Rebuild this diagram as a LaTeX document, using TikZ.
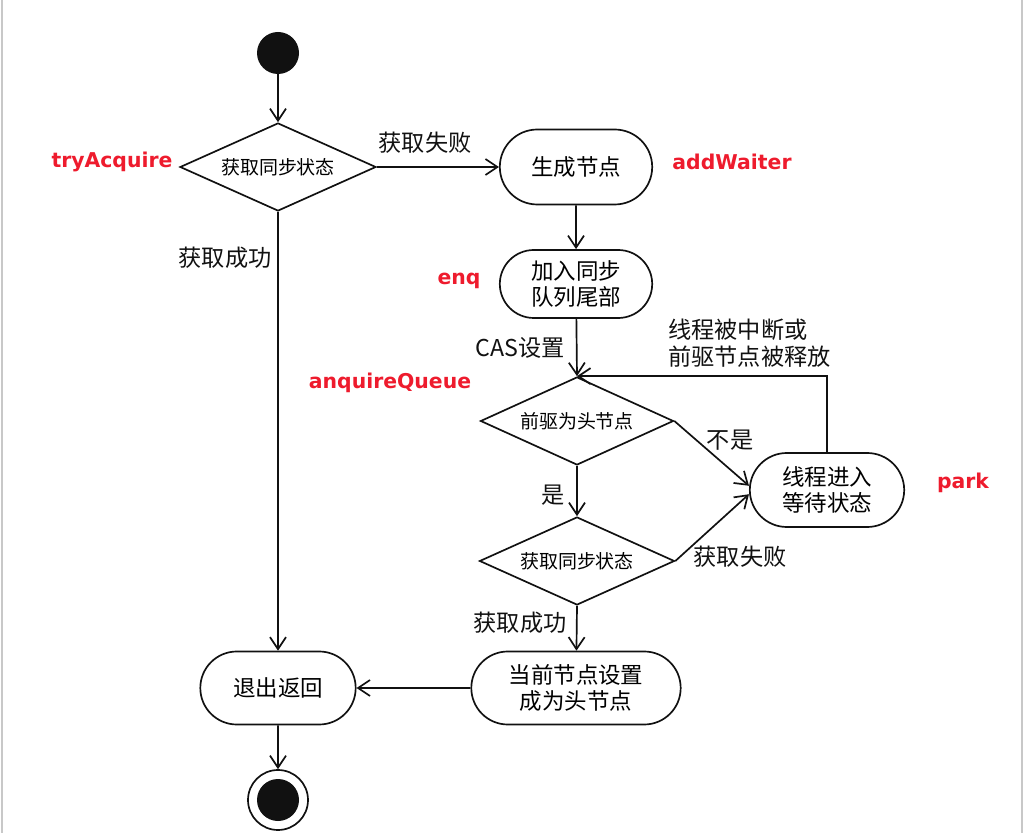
\documentclass[tikz,border=0pt]{standalone}
\usepackage{fontspec}
\setmainfont{Noto Sans CJK SC}
\newfontfamily\apifont{DejaVu Sans}
\usetikzlibrary{shapes.geometric, shapes.misc, arrows.meta}
\definecolor{FlowBlack}{HTML}{111111}
\definecolor{ApiRed}{HTML}{EE1B2D}
\definecolor{FrameGray}{HTML}{C8C8C8}
\tikzset{
    actbox/.style={
        draw=FlowBlack,
        rounded rectangle,
        line width=1.2pt,
        minimum width=4cm,
        minimum height=1.85cm,
        font=\fontsize{16}{19}\selectfont,
        align=center,
        inner sep=2pt
    },
    decision/.style={
        draw=FlowBlack,
        diamond,
        aspect=2.2,
        line width=1.2pt,
        minimum width=4.9cm,
        minimum height=2.2cm,
        font=\fontsize{13.5}{16}\selectfont,
        inner sep=0pt
    },
    arrow/.style={
        -{Straight Barb[length=3mm,width=4mm]},
        line width=1.2pt,
        FlowBlack
    },
    flowlabel/.style={
        font=\fontsize{16.5}{19}\selectfont,
        text=FlowBlack,
        inner sep=0pt
    },
    apilabel/.style={
        font=\apifont\bfseries\fontsize{14.5}{17}\selectfont,
        text=ApiRed,
        inner sep=0pt
    }
}
\begin{document}
\begin{tikzpicture}
    \useasboundingbox (0,0) rectangle (25.6,-20.825);
    % screenshot frame
    \draw[FrameGray, line width=1.5pt] (0.04,0) -- (0.04,-20.825);
    \draw[FrameGray, line width=1.5pt] (25.56,0) -- (25.56,-20.825);

    % main column
    \node[circle, fill=FlowBlack, minimum size=1.05cm, inner sep=0pt] (start) at (6.95,-1.325) {};
    \node[decision] (try) at (6.95,-4.175) {获取同步状态};
    \node[actbox, minimum width=4.025cm, minimum height=1.825cm] (exit) at (6.95,-17.2) {退出返回};
    \node[circle, draw=FlowBlack, line width=1.2pt, minimum size=1.5cm, inner sep=0pt] (final) at (6.95,-20.0) {};
    \node[circle, fill=FlowBlack, minimum size=1.05cm, inner sep=0pt] (finalin) at (final.center) {};

    % waiting queue
    \node[actbox, minimum width=3.95cm, minimum height=1.875cm] (make) at (14.4,-4.175) {生成节点};
    \node[actbox, minimum width=3.95cm, minimum height=1.7cm] (tail) at (14.4,-7.1) {加入同步\\队列尾部};
    \node[decision, minimum width=4.825cm] (head) at (14.425,-10.525) {前驱为头节点};
    \node[decision, minimum width=4.875cm] (again) at (14.425,-14.025) {获取同步状态};
    \node[actbox, minimum width=4cm, minimum height=1.85cm] (wait) at (20.675,-12.25) {线程进入\\等待状态};
    \node[actbox, minimum width=5.375cm, minimum height=1.825cm] (sethead) at (14.4,-17.2) {当前节点设置\\成为头节点};

    \draw[arrow] (start) -- (try);
    \draw[arrow] (try.east) -- (make);
    \draw[arrow] (try.south) -- (exit);
    \draw[arrow] (make) -- (tail);
    \draw[arrow] (tail) -- (head.north);
    \draw[arrow] (head.south) -- (again.north);
    \draw[arrow] (head.east) -- ([yshift=3pt]wait.west);
    \draw[arrow] (again.east) -- ([yshift=-3pt]wait.west);
    \draw[arrow] (wait.north) |- (head.north);
    \draw[arrow] (again.south) -- (sethead);
    \draw[arrow] (sethead) -- (exit);
    \draw[arrow] (exit) -- (final);

    % connector labels
    \node[flowlabel] (fail1) at (10.625,-3.575) {获取失败};
    \node[flowlabel] (ok1) at (5.625,-6.45) {获取成功};
    \node[flowlabel] (cas) at (13.0,-8.7) {CAS设置};
    \node[flowlabel, anchor=west, align=left] (wake) at (16.7,-8.575) {线程被中断或\\前驱节点被释放};
    \node[flowlabel] (no) at (18.25,-11.0) {不是};
    \node[flowlabel] (yes) at (13.825,-12.375) {是};
    \node[flowlabel] (fail2) at (18.5,-13.925) {获取失败};
    \node[flowlabel] (ok2) at (13.0,-15.575) {获取成功};

    % method names
    \node[apilabel] (tryAcquire) at (2.8,-4.05) {tryAcquire};
    \node[apilabel] (addWaiter) at (18.3,-4.05) {addWaiter};
    \node[apilabel] (enq) at (11.475,-7.025) {enq};
    \node[apilabel] (acquireQueued) at (9.75,-9.575) {anquireQueue};
    \node[apilabel] (park) at (24.075,-12.075) {park};
\end{tikzpicture}
\end{document}
